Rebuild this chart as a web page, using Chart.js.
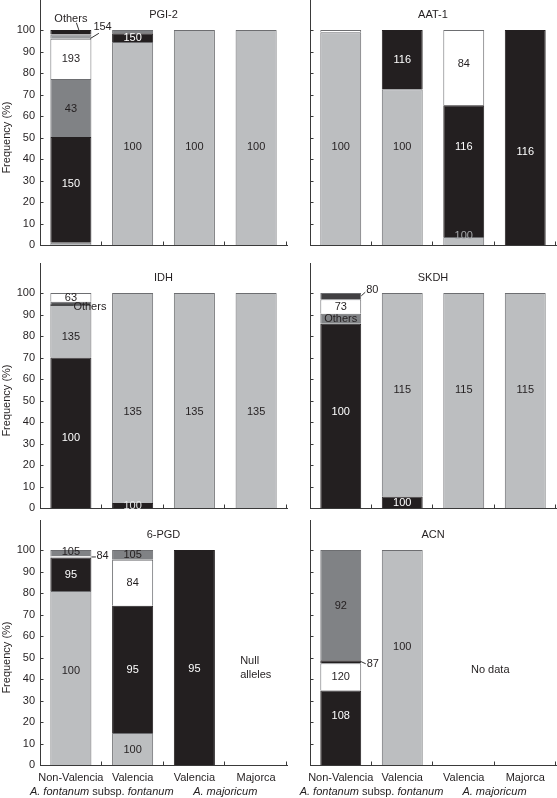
<!DOCTYPE html>
<html>
<head>
<meta charset="utf-8">
<script src="https://cdn.jsdelivr.net/npm/chart.js@4.4.0/dist/chart.umd.min.js"></script>
<style>
  body { margin: 0; background: #fff; width: 557px; height: 798px; overflow: hidden; position: relative; }
  canvas { position: absolute; }
</style>
</head>
<body>
<canvas id="pgi2"></canvas>
<canvas id="aat1"></canvas>
<canvas id="idh"></canvas>
<canvas id="skdh"></canvas>
<canvas id="pgd6"></canvas>
<canvas id="acn"></canvas>
<script>
// populations on the x axis
const categories = ['Non-Valencia', 'Valencia', 'Valencia', 'Majorca'];
const speciesGroups = [
  { from: 0, to: 1, parts: [['A. fontanum', true], [' subsp. ', false], ['fontanum', true]] },
  { from: 2, to: 3, parts: [['A. majoricum', true]] }
];
const yTicks = [0, 10, 20, 30, 40, 50, 60, 70, 80, 90, 100];

// allele frequencies (%), stacked from the bottom of each bar
const pgi2Alleles = ['100', '150', '43', '193', '154', 'Others'];
const pgi2_100 = [1, 94.5, 100, 100];
const pgi2_150 = [49.2, 4, null, null];
const pgi2_43 = [27, 1.5, null, null];
const pgi2_193 = [18.8, null, null, null];
const pgi2_154 = [2, null, null, null];
const pgi2_others = [2, null, null, null];

const aat1Alleles = ['100', '116', '84'];
const aat1_100 = [99, 72.5, 3.7, null];
const aat1_116 = [null, 27.5, 61.3, 100];
const aat1_84 = [1, null, 35, null];

const idhAlleles = ['100', '135', 'Others', '63'];
const idh_100 = [70, 2.3, null, null];
const idh_135 = [24.5, 97.7, 100, 100];
const idh_others = [1.5, null, null, null];
const idh_63 = [4, null, null, null];

const skdhAlleles = ['100', '115', 'Others', '73', '80'];
const skdh_100 = [85.7, 5.3, null, null];
const skdh_115 = [null, 94.7, 100, 100];
const skdh_others = [4.7, null, null, null];
const skdh_73 = [6.7, null, null, null];
const skdh_80 = [2.9, null, null, null];

const pgd6Alleles = ['100', '95', '84', '105'];
const pgd6_100 = [81, 14.9, null, null];
const pgd6_95 = [15.5, 59.2, 100, null];
const pgd6_84 = [0.5, 21.4, null, null];
const pgd6_105 = [3, 4.5, null, null];

const acnAlleles = ['108', '120', '87', '92', '100'];
const acn_108 = [34.7, null, null, null];
const acn_120 = [12.7, null, null, null];
const acn_87 = [1.3, null, null, null];
const acn_92 = [51.3, null, null, null];
const acn_100 = [null, 100, null, null];

// colours
const BLACK = '#231f20';
const LIGHT = '#bcbec0';
const MID = '#808285';
const WHITE = '#ffffff';
const DARK = '#414042';
const EDGE = '#6d6e71';
const AXIS = '#3a3a3a';
const TEXT = '#231f20';
const FONT = '"Liberation Sans", Arial, Helvetica, sans-serif';

Chart.defaults.font.family = FONT;
Chart.defaults.font.size = 11;
Chart.defaults.color = TEXT;

const panels = [
  {
    id: 'pgi2', title: 'PGI-2', col: 0, row: 0,
    alleles: pgi2Alleles,
    series: [pgi2_100, pgi2_150, pgi2_43, pgi2_193, pgi2_154, pgi2_others],
    colors: [LIGHT, BLACK, MID, WHITE, '#9a9c9f', BLACK],
    labelAt: { '1:0': 28.7, '0:1': 45.8, '0:2': 45.8, '0:3': 45.8 },
    labelColor: {},
    skip: ['4:0', '5:0'],
    callouts: [
      { text: 'Others', bar: 0, dx: 0, v: 105.1, align: 'center', leader: [[5.5, 103.4], [8.5, 99.3]] },
      { text: '154', bar: 0, dx: 22.5, v: 101.4, align: 'left', leader: [[19.5, 96.1], [28, 98.5]] }
    ]
  },
  {
    id: 'aat1', title: 'AAT-1', col: 1, row: 0,
    alleles: aat1Alleles,
    series: [aat1_100, aat1_116, aat1_84],
    colors: [LIGHT, BLACK, WHITE],
    labelAt: { '0:0': 45.8, '0:1': 45.8, '1:2': 45.8, '0:2': 4.6, '1:3': 43.5, '2:2': 84.6 },
    labelColor: { '0:2': '#a7a9ac' },
    skip: [],
    callouts: []
  },
  {
    id: 'idh', title: 'IDH', col: 0, row: 1,
    alleles: idhAlleles,
    series: [idh_100, idh_135, idh_others, idh_63],
    colors: [BLACK, LIGHT, '#58595b', WHITE],
    labelAt: { '0:0': 32.8, '1:0': 80, '1:1': 45, '1:2': 45, '1:3': 45 },
    labelColor: { '0:1': '#e6e7e8' },
    skip: [],
    callouts: [
      { text: 'Others', bar: 0, dx: 2.5, v: 93.7, align: 'left', leader: [[-20.5, 94.4], [2.5, 94.4]] }
    ]
  },
  {
    id: 'skdh', title: 'SKDH', col: 1, row: 1,
    alleles: skdhAlleles,
    series: [skdh_100, skdh_115, skdh_others, skdh_73, skdh_80],
    colors: [BLACK, LIGHT, MID, WHITE, DARK],
    labelAt: { '0:0': 45, '1:1': 55, '1:2': 55, '1:3': 55 },
    labelColor: {},
    skip: ['4:0'],
    callouts: [
      { text: '80', bar: 0, dx: 25.5, v: 101.4, align: 'left', leader: [[20.5, 98.7], [24.5, 100.4]] }
    ]
  },
  {
    id: 'pgd6', title: '6-PGD', col: 0, row: 2,
    alleles: pgd6Alleles,
    series: [pgd6_100, pgd6_95, pgd6_84, pgd6_105],
    colors: [LIGHT, BLACK, WHITE, MID],
    labelAt: { '0:0': 44, '1:2': 45, '3:0': 99.2 },
    labelColor: {},
    skip: [],
    callouts: [
      { text: '84', bar: 0, dx: 25.5, v: 97.1, align: 'left', leader: [[20.5, 96.8], [25, 96.8]] }
    ],
    notes: [
      { lines: ['Null', 'alleles'], bar: 3, dx: -16, v: [48.3, 42.1], align: 'left' }
    ]
  },
  {
    id: 'acn', title: 'ACN', col: 1, row: 2,
    alleles: acnAlleles,
    series: [acn_108, acn_120, acn_87, acn_92, acn_100],
    colors: [BLACK, WHITE, BLACK, MID, LIGHT],
    labelAt: { '0:0': 23, '4:1': 55 },
    labelColor: {},
    skip: [],
    callouts: [
      { text: '87', bar: 0, dx: 26, v: 47.1, align: 'left', leader: [[20.3, 48.1], [25, 47.1]] }
    ],
    notes: [
      { lines: ['No data'], bar: 2, dx: 26.5, v: [44.4], align: 'center' }
    ]
  }
];

// layout of the 3 x 2 grid
const colBox = [{ left: 0, width: 292, axisW: 40, padR: 5 }, { left: 292, width: 265, axisW: 18, padR: 1 }];
const rowBox = [{ top: 0, height: 253 }, { top: 263, height: 253 }, { top: 520, height: 278 }];
const AREA_H = 245;

function isDark(c) { return c === BLACK || c === DARK || c === '#58595b'; }

function decor(p) {
  return {
    id: 'decor',
    afterDraw(chart) {
      const { ctx, chartArea: a, scales: { x, y } } = chart;
      ctx.save();

      // inward tick marks
      ctx.strokeStyle = AXIS;
      ctx.lineWidth = 1;
      ctx.beginPath();
      yTicks.forEach(v => {
        const py = Math.round(y.getPixelForValue(v)) + 0.5;
        ctx.moveTo(a.left, py);
        ctx.lineTo(a.left + 3.5, py);
      });
      const step = (a.right - a.left) / categories.length;
      for (let i = 1; i <= categories.length; i++) {
        const px = Math.round(x.getPixelForValue(i - 1) + step / 2) - 0.5;
        ctx.moveTo(px, a.bottom);
        ctx.lineTo(px, a.bottom - 3.5);
      }
      ctx.stroke();

      ctx.font = '11px ' + FONT;
      ctx.textBaseline = 'middle';

      // panel title
      ctx.fillStyle = TEXT;
      ctx.textAlign = 'center';
      ctx.fillText(p.title, (a.left + a.right) / 2, y.getPixelForValue(107));

      // y axis title
      if (p.col === 0) {
        ctx.save();
        ctx.translate(7, y.getPixelForValue(50));
        ctx.rotate(-Math.PI / 2);
        ctx.fillText('Frequency (%)', 0, 0);
        ctx.restore();
      }

      // segment labels
      p.series.forEach((data, i) => {
        const meta = chart.getDatasetMeta(i);
        data.forEach((val, j) => {
          const key = i + ':' + j;
          if (!val || val < 2 || p.skip.includes(key)) return;
          const el = meta.data[j];
          const py = p.labelAt[key] !== undefined ? y.getPixelForValue(p.labelAt[key]) : (el.y + el.base) / 2;
          ctx.fillStyle = p.labelColor[key] || (isDark(p.colors[i]) ? '#ffffff' : TEXT);
          ctx.textAlign = 'center';
          ctx.fillText(p.alleles[i], el.x, py + 0.5);
        });
      });

      // callouts with leader lines
      p.callouts.forEach(c => {
        const cx = x.getPixelForValue(c.bar);
        ctx.strokeStyle = '#333';
        ctx.lineWidth = 1;
        ctx.beginPath();
        ctx.moveTo(cx + c.leader[0][0], y.getPixelForValue(c.leader[0][1]));
        ctx.lineTo(cx + c.leader[1][0], y.getPixelForValue(c.leader[1][1]));
        ctx.stroke();
        ctx.fillStyle = TEXT;
        ctx.textAlign = c.align;
        ctx.fillText(c.text, cx + c.dx, y.getPixelForValue(c.v));
      });

      // free notes
      (p.notes || []).forEach(n => {
        const cx = x.getPixelForValue(n.bar);
        ctx.fillStyle = TEXT;
        ctx.textAlign = n.align;
        n.lines.forEach((t, k) => ctx.fillText(t, cx + n.dx, y.getPixelForValue(n.v[k])));
      });

      // species group labels under the bottom row
      if (p.row === 2) {
        const gy = a.bottom + 27;
        speciesGroups.forEach(g => {
          const cx = (x.getPixelForValue(g.from) + x.getPixelForValue(g.to)) / 2;
          const widths = g.parts.map(([t, it]) => {
            ctx.font = (it ? 'italic ' : '') + '11px ' + FONT;
            return ctx.measureText(t).width;
          });
          let px = cx - widths.reduce((s, w) => s + w, 0) / 2;
          ctx.textAlign = 'left';
          ctx.fillStyle = TEXT;
          g.parts.forEach(([t, it], k) => {
            ctx.font = (it ? 'italic ' : '') + '11px ' + FONT;
            ctx.fillText(t, px, gy);
            px += widths[k];
          });
        });
      }
      ctx.restore();
    }
  };
}

panels.forEach(p => {
  const cb = colBox[p.col];
  const rb = rowBox[p.row];
  const canvas = document.getElementById(p.id);
  canvas.width = cb.width;
  canvas.height = rb.height;
  canvas.style.left = cb.left + 'px';
  canvas.style.top = rb.top + 'px';

  const datasets = p.alleles.map((name, i) => ({
    label: name,
    data: p.series[i],
    backgroundColor: p.colors[i],
    borderColor: p.colors[i] === BLACK ? BLACK : EDGE,
    borderWidth: c => (c.raw !== null && c.raw < 1
      ? { left: 1, right: 1, top: 0, bottom: 0 }
      : { left: 1, right: 1, top: 1, bottom: 0 }),
    borderSkipped: false,
    barPercentage: 0.665,
    categoryPercentage: 1
  }));

  new Chart(canvas, {
    type: 'bar',
    data: { labels: categories, datasets },
    options: {
      responsive: false,
      animation: false,
      devicePixelRatio: 1,
      layout: { padding: { left: 0, right: cb.padR, top: 0, bottom: 0 } },
      plugins: { legend: { display: false }, tooltip: { enabled: false } },
      scales: {
        x: {
          stacked: true,
          offset: true,
          grid: { display: false, drawTicks: false, offset: true },
          border: { display: true, color: AXIS, width: 1 },
          ticks: { display: p.row === 2, padding: 6, maxRotation: 0, autoSkip: false, color: TEXT, font: { size: 11 } },
          afterFit: s => { s.height = rb.height - AREA_H; s.paddingLeft = 0; s.paddingRight = 0; }
        },
        y: {
          stacked: true,
          min: 0,
          max: 114,
          grid: { display: false, drawTicks: false },
          border: { display: true, color: AXIS, width: 1 },
          ticks: { display: p.col === 0, stepSize: 10, padding: 5, color: TEXT, font: { size: 11 } },
          afterBuildTicks: s => { s.ticks = s.ticks.filter(t => yTicks.includes(t.value)); },
          afterFit: s => { s.width = cb.axisW; s.paddingTop = 0; s.paddingBottom = 0; }
        }
      }
    },
    plugins: [decor(p)]
  });
});
</script>
</body>
</html>
